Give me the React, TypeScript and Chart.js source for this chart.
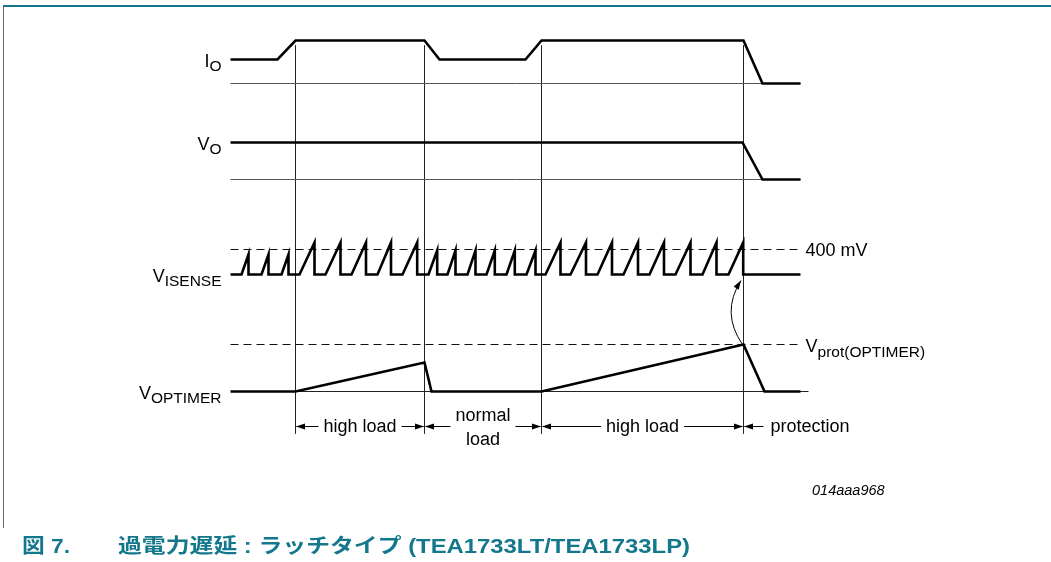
import React, { useEffect, useRef } from 'react';
import { Chart, registerables } from 'chart.js';

Chart.register(...registerables);

// ---- Diagram data (x: time units, y: level units, larger = lower on page) ----
const phaseEdges = [295, 424, 541, 743];
const phaseLabels = ['high load', 'normal|load', 'high load', 'protection'];
const traceEnd = 800;
const dashEnd = 797;
const verticalTop = 45;
const verticalBottom = 433;

// I_O
const ioTimes = [230, 277, 295, 424, 439, 525, 541, 743, 762, 800];
const ioLevels = [59, 59, 40, 40, 59, 59, 40, 40, 83, 83];
const ioZero = 83;

// V_O
const voTimes = [230, 742, 762, 800];
const voLevels = [142, 142, 179, 179];
const voZero = 179;

// V_ISENSE
const isenseBase = 274;
const isense400mV = 249;
const isenseRiseStarts = [241, 261, 281, 299, 325, 351, 377, 402, 428, 447, 467, 486, 506, 526, 545, 570, 597, 623, 649, 675, 702, 728];
const isensePeakTimes = [248, 268, 288, 314, 340, 365.5, 390.5, 416.7, 436.7, 455, 475, 494.3, 514.3, 535, 560, 585.5, 611.5, 637.5, 663.5, 690, 716, 742.7];
const isensePeakLevels = [254, 254, 254, 242, 242, 242, 242, 242, 250, 250, 250, 250, 250, 250, 242, 242, 242, 242, 242, 242, 242, 242];

// V_OPTIMER
const optTimes = [230, 295, 424, 431, 541, 743, 764, 800];
const optLevels = [391, 391, 362, 391, 391, 344, 391, 391];
const optZeroStart = 295;
const optZeroEnd = 808;
const optProt = 344;

// Row labels
const rowMain = ['I', 'V', 'V', 'V'];
const rowSub = ['O', 'O', 'ISENSE', 'OPTIMER'];
const rowLevels = [59, 142, 274, 391];

const TEAL = '#14788c';
const FONT = '"Liberation Sans", Arial, Helvetica, sans-serif';

function pts(xs: number[], ys: number[]) {
  return xs.map((x, i) => ({ x, y: ys[i] }));
}

function isensePoints() {
  const p: { x: number; y: number }[] = [{ x: 230, y: isenseBase }];
  isenseRiseStarts.forEach((s, i) => {
    p.push({ x: s, y: isenseBase });
    p.push({ x: isensePeakTimes[i], y: isensePeakLevels[i] });
    p.push({ x: isensePeakTimes[i], y: isenseBase });
  });
  p.push({ x: traceEnd, y: isenseBase });
  return p;
}

function thick(data: any[]) {
  return { data, showLine: true, borderColor: '#000', borderWidth: 2.6, pointRadius: 0, tension: 0, fill: false, order: 0, borderJoinStyle: 'miter', borderCapStyle: 'butt' };
}
function thin(data: any[], color = '#3a3a3a', dash: number[] = []) {
  return { data, showLine: true, borderColor: color, borderWidth: 1, pointRadius: 0, tension: 0, fill: false, order: 1, borderDash: dash };
}

function arrowHead(ctx: CanvasRenderingContext2D, x: number, y: number, ang: number, len = 9, half = 3) {
  ctx.save();
  ctx.translate(x, y);
  ctx.rotate(ang);
  ctx.beginPath();
  ctx.moveTo(0, 0);
  ctx.lineTo(-len, -half);
  ctx.lineTo(-len, half);
  ctx.closePath();
  ctx.fill();
  ctx.restore();
}

const annotations = {
  id: 'timingAnnotations',
  beforeDraw(chart: any) {
    const ctx = chart.ctx as CanvasRenderingContext2D;
    ctx.save();
    ctx.fillStyle = '#fff';
    ctx.fillRect(0, 0, chart.width, chart.height);
    // frame
    ctx.strokeStyle = TEAL;
    ctx.lineWidth = 2;
    ctx.beginPath();
    ctx.moveTo(3, 6);
    ctx.lineTo(chart.width, 6);
    ctx.stroke();
    ctx.strokeStyle = '#666';
    ctx.lineWidth = 1;
    ctx.beginPath();
    ctx.moveTo(3.5, 6);
    ctx.lineTo(3.5, 528);
    ctx.stroke();
    ctx.restore();
  },
  afterDatasetsDraw(chart: any) {
    const ctx = chart.ctx as CanvasRenderingContext2D;
    const xs = chart.scales.x;
    const ys = chart.scales.y;
    const X = (v: number) => xs.getPixelForValue(v);
    const Y = (v: number) => ys.getPixelForValue(v);
    ctx.save();
    ctx.fillStyle = '#000';
    ctx.strokeStyle = '#000';
    ctx.textBaseline = 'alphabetic';

    // row labels
    const right = X(221);
    rowMain.forEach((m, i) => {
      const base = Y(rowLevels[i] + 7);
      ctx.font = `15.5px ${FONT}`;
      const sw = ctx.measureText(rowSub[i]).width;
      ctx.textAlign = 'left';
      ctx.fillText(rowSub[i], right - sw, base + 4);
      ctx.font = `18px ${FONT}`;
      ctx.textAlign = 'right';
      ctx.fillText(m, right - sw, base);
    });

    // right-hand labels
    ctx.textAlign = 'left';
    ctx.font = `18px ${FONT}`;
    ctx.fillText('400 mV', X(805), Y(isense400mV + 6));
    ctx.fillText('V', X(805), Y(optProt + 7));
    const vw = ctx.measureText('V').width;
    ctx.font = `15.5px ${FONT}`;
    ctx.fillText('prot(OPTIMER)', X(805) + vw, Y(optProt + 12));

    // phase arrows
    const ay = Y(426);
    ctx.lineWidth = 1;
    ctx.font = `18px ${FONT}`;
    const gap = 5;
    const seg = (a: number, b: number) => {
      ctx.beginPath();
      ctx.moveTo(a, ay);
      ctx.lineTo(b, ay);
      ctx.stroke();
    };
    for (let i = 0; i < phaseLabels.length; i++) {
      const a = X(phaseEdges[i]);
      const lines = phaseLabels[i].split('|');
      if (i < phaseEdges.length - 1) {
        const b = X(phaseEdges[i + 1]);
        const c = (a + b) / 2;
        const w = Math.max(...lines.map((l) => ctx.measureText(l).width));
        ctx.textAlign = 'center';
        if (lines.length === 1) {
          ctx.fillText(lines[0], c, ay + 5);
        } else {
          ctx.fillText(lines[0], c, ay - 6);
          ctx.fillText(lines[1], c, ay + 18);
        }
        seg(a + 1, c - w / 2 - gap);
        seg(c + w / 2 + gap, b - 1);
        arrowHead(ctx, a + 0.5, ay, Math.PI);
        arrowHead(ctx, b - 0.5, ay, 0);
      } else {
        seg(a + 1, a + 20);
        arrowHead(ctx, a + 0.5, ay, Math.PI);
        ctx.textAlign = 'left';
        ctx.fillText(lines[0], a + 27, ay + 5);
      }
    }

    // curved arrow V_OPTIMER -> V_ISENSE
    const p0 = { x: X(742), y: Y(optProt) };
    const cp = { x: X(720), y: Y(312) };
    const p1 = { x: X(740.5), y: Y(280) };
    ctx.beginPath();
    ctx.moveTo(p0.x, p0.y);
    ctx.quadraticCurveTo(cp.x, cp.y, p1.x, p1.y);
    ctx.stroke();
    arrowHead(ctx, p1.x, p1.y, Math.atan2(p1.y - cp.y, p1.x - cp.x), 9, 3);

    // figure id
    ctx.font = `italic 14.5px ${FONT}`;
    ctx.textAlign = 'left';
    ctx.fillText('014aaa968', 812, 495);

    // caption
    ctx.fillStyle = TEAL;
    ctx.font = `bold 20px ${FONT}, "Noto Sans CJK JP"`;
    const fig = '図 7.';
    const fw = ctx.measureText(fig).width;
    ctx.save();
    ctx.translate(22, 553);
    ctx.scale(48 / fw, 1);
    ctx.fillText(fig, 0, 0);
    ctx.restore();
    const cap = '過電力遅延 : ラッチタイプ (TEA1733LT/TEA1733LP)';
    const cw = ctx.measureText(cap).width;
    ctx.save();
    ctx.translate(118, 553);
    ctx.scale(572 / cw, 1);
    ctx.fillText(cap, 0, 0);
    ctx.restore();
    ctx.restore();
  },
};

export default function App() {
  const ref = useRef<HTMLCanvasElement | null>(null);
  useEffect(() => {
    if (!ref.current) return;
    const datasets: any[] = [
      thick(pts(ioTimes, ioLevels)),
      thick(pts(voTimes, voLevels)),
      thick(isensePoints()),
      thick(pts(optTimes, optLevels)),
      thin(pts([230, traceEnd], [ioZero, ioZero]), '#555'),
      thin(pts([230, traceEnd], [voZero, voZero]), '#555'),
      thin(pts([optZeroStart, optZeroEnd], [optLevels[0], optLevels[0]]), '#222'),
      thin(pts([230, dashEnd], [isense400mV, isense400mV]), '#111', [8, 5]),
      thin(pts([230, dashEnd], [optProt, optProt]), '#111', [8, 5]),
      ...phaseEdges.map((t) => thin(pts([t, t], [verticalTop, verticalBottom]), '#222')),
    ];
    const chart = new Chart(ref.current, {
      type: 'scatter',
      data: { datasets },
      options: {
        responsive: false,
        animation: false,
        events: [],
        layout: { padding: 0 },
        scales: {
          x: { type: 'linear', min: -0.5, max: 1050.5, display: false },
          y: { type: 'linear', min: -0.5, max: 561.5, reverse: true, display: false },
        },
        plugins: { legend: { display: false }, tooltip: { enabled: false } },
      },
      plugins: [annotations],
    });
    return () => chart.destroy();
  }, []);
  return (
    <div style={{ position: 'absolute', left: 0, top: 0, width: 1051, height: 562 }}>
      <canvas ref={ref} width={1051} height={562} style={{ display: 'block' }} />
    </div>
  );
}
